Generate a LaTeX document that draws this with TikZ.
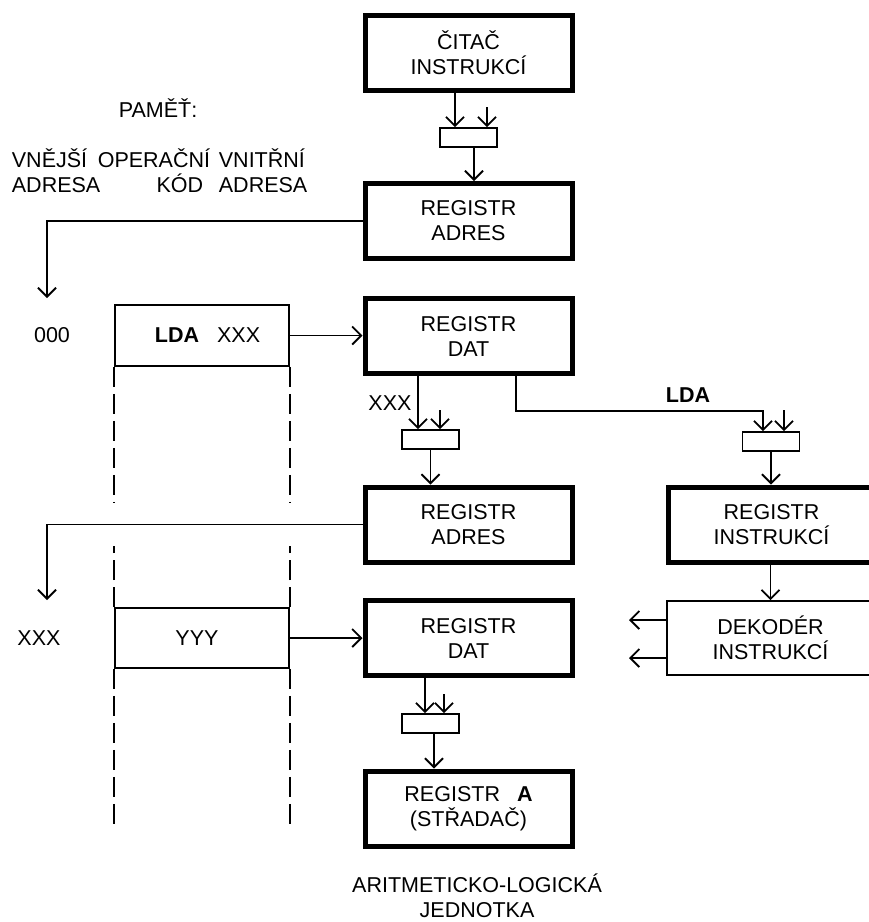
\documentclass[tikz,border=0pt]{standalone}
\usepackage{fontspec}
\setmainfont{Liberation Sans}
\usetikzlibrary{arrows.meta}

\begin{document}
\begin{tikzpicture}[x=1pt, y=-1pt, line width=1.8pt,
    every node/.style={font=\fontsize{21.5}{25}\selectfont, align=center, inner sep=0pt}]
                % 0. Page frame (the right column is cut by the edge)
                \clip (0,0) rectangle (869,922);

                % 1. Styles
                \tikzstyle{Reg} = [draw, line width=5pt, minimum width=207pt, minimum height=75pt]
                \tikzstyle{Dek} = [draw, minimum width=207pt, minimum height=74pt]
                \tikzstyle{Gate} = [draw, minimum width=57pt, minimum height=19pt]
                \tikzstyle{Mem} = [draw, minimum width=174pt, minimum height=61pt]
                \tikzstyle{Arr} = [-{Straight Barb[length=9pt, width=18pt]}]
                \tikzstyle{MemDash} = [dash pattern=on 20pt off 7pt]

                % 2. Registers
                % Central column
                \node[Reg] (CitacInstr) at (468.5, 52.5)  {ČITAČ\\INSTRUKCÍ};
                \node[Reg] (RegAdr1)    at (468.5, 221)   {REGISTR\\ADRES};
                \node[Reg] (RegDat1)    at (468.5, 336)   {REGISTR\\DAT};
                \node[Reg] (RegAdr2)    at (468.5, 524.5) {REGISTR\\ADRES};
                \node[Reg] (RegDat2)    at (468.5, 638)   {REGISTR\\DAT};
                \node[Reg] (RegA)       at (468.5, 808.5) {REGISTR\hspace{17pt}\textbf{A}\\(STŘADAČ)};

                % Right column
                \node[Reg] (RegInstr) at (771.5, 524.5) {REGISTR\\INSTRUKCÍ};
                \node[Dek] (Dekoder)  at (770.5, 638)   {DEKODÉR\\INSTRUKCÍ};

                % Gates in front of the registers
                \node[Gate] (Gate1) at (468.5, 137.5) {};
                \node[Gate] (Gate2) at (430.5, 439.5) {};
                \node[Gate] (Gate3) at (771, 441.5)   {};
                \node[Gate] (Gate4) at (430.5, 723.5) {};

                % 3. Memory cells
                \node[Mem] (Mem1) at (202, 335.5) {\hspace*{11pt}\textbf{LDA}\hspace{18pt}XXX};
                \node[Mem, minimum height=60pt] (Mem2) at (202, 638) {YYY\hspace*{10pt}};

                % 4. Labels
                \node (Pamet) at (158, 108) {PAMĚŤ:};
                \node[anchor=west, align=left]  (ColExt) at (11, 171)  {VNĚJŠÍ\\ADRESA};
                \node[anchor=east, align=right] (ColOp)  at (211, 171) {OPERAČNÍ\\KÓD\hspace*{7pt}};
                \node[anchor=west, align=left]  (ColInt) at (218, 171) {VNITŘNÍ\\ADRESA};
                \node (Addr0)  at (52, 335)  {000};
                \node (AddrX)  at (39, 638)  {XXX};
                \node (LblXXX) at (390, 403) {XXX};
                \node (LblLDA) at (688, 395) {\textbf{LDA}};
                \node (Alu)    at (477, 896) {ARITMETICKO-LOGICKÁ\\JEDNOTKA};

                % 5. Coordinate Definitions
                % Gate inputs and outputs
                \coordinate (Gate1In1) at ([xshift=-13.5pt]Gate1.north);
                \coordinate (Gate1In2) at ([xshift=18.5pt]Gate1.north);
                \coordinate (Gate1Out) at ([xshift=5.5pt]Gate1.south);
                \coordinate (Gate2In1) at ([xshift=-12.5pt]Gate2.north);
                \coordinate (Gate2In2) at ([xshift=9.5pt]Gate2.north);
                \coordinate (Gate3In1) at ([xshift=-8pt]Gate3.north);
                \coordinate (Gate3In2) at ([xshift=13pt]Gate3.north);
                \coordinate (Gate4In1) at ([xshift=-5.5pt]Gate4.north);
                \coordinate (Gate4In2) at ([xshift=13.5pt]Gate4.north);
                \coordinate (Gate4Out) at ([xshift=3.5pt]Gate4.south);

                % Free ends on the left (addresses into memory)
                \coordinate (AdrDrop1) at (47, 298);
                \coordinate (AdrDrop2) at (47, 600);

                % Bend of the LDA line, decoder outputs
                \coordinate (LdaBend)  at (516, 411);
                \coordinate (DekOut1)  at (629, 620);
                \coordinate (DekOut2)  at (629, 658);

                % 6. Connectors
                \draw[Arr] (CitacInstr.south -| Gate1In1) -- (Gate1In1);
                \draw[Arr] (Gate1In2) ++(0,-20) -- (Gate1In2);
                \draw[Arr] (Gate1Out) -- (Gate1Out |- RegAdr1.north);
                \draw[Arr] (RegAdr1.west) -| (AdrDrop1);

                \draw[Arr] (Mem1.east) -- (RegDat1.west |- Mem1.east);
                \draw[Arr] (RegDat1.south -| Gate2In1) -- (Gate2In1);
                \draw[Arr] (Gate2In2) ++(0,-19) -- (Gate2In2);
                \draw[Arr] (Gate2.south) -- (Gate2.south |- RegAdr2.north);
                \draw[Arr] (RegAdr2.west) -| (AdrDrop2);

                \draw[Arr] (RegDat1.south -| LdaBend) -- (LdaBend) -- (LdaBend -| Gate3In1) -- (Gate3In1);
                \draw[Arr] (Gate3In2) ++(0,-21) -- (Gate3In2);
                \draw[Arr] (Gate3.south) -- (Gate3.south |- RegInstr.north);
                \draw[Arr] (Dekoder.north |- RegInstr.south) -- (Dekoder.north);
                \draw[Arr] (Dekoder.west |- DekOut1) -- (DekOut1);
                \draw[Arr] (Dekoder.west |- DekOut2) -- (DekOut2);

                \draw[Arr] (Mem2.east) -- (RegDat2.west |- Mem2.east);
                \draw[Arr] (RegDat2.south -| Gate4In1) -- (Gate4In1);
                \draw[Arr] (Gate4In2) ++(0,-19) -- (Gate4In2);
                \draw[Arr] (Gate4Out) -- (Gate4Out |- RegA.north);

                % 7. Dashed memory columns
                \foreach \a/\b in {south west/north west, south east/north east} {
                    \draw[MemDash] (Mem1.\a) -- ++(0,136);
                    \draw[MemDash] (Mem2.\b) -- ++(0,-61);
                    \draw[MemDash] (Mem2.\a) -- ++(0,159);
                }

\end{tikzpicture}
\end{document}
